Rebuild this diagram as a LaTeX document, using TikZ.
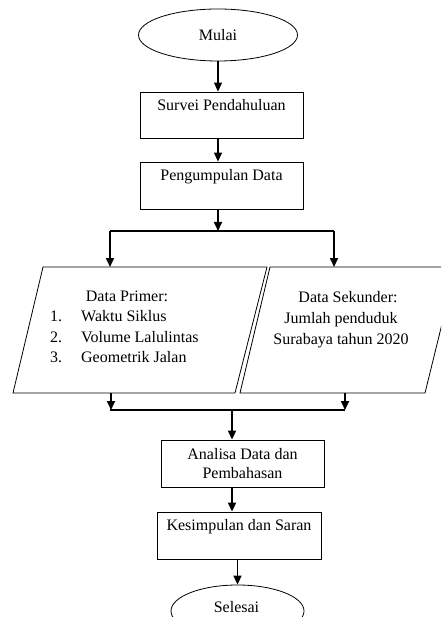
\documentclass[tikz,border=0pt]{standalone}
\usepackage{fontspec}
\setmainfont{Liberation Serif}
\usetikzlibrary{shapes.geometric}
\usetikzlibrary{arrows.meta}

\tikzset{
    terminal/.style={draw, line width=0.8pt, ellipse, inner sep=0pt},
    process/.style={draw, line width=0.8pt, rectangle, inner sep=0pt, align=center},
    datashape/.style={draw, line width=0.8pt},
    flowthin/.style={-{Triangle[length=9pt,width=8pt]}, line width=1.1pt},
    flow/.style={-{Triangle[length=9pt,width=8pt]}, line width=1.6pt},
    flowline/.style={line width=1.6pt},
}

\begin{document}
\begin{tikzpicture}[x=1pt, y=-1pt, font=\fontsize{16}{19}\selectfont]
		\path[use as bounding box, clip] (0,0) rectangle (441,617);
		\fill[white] (0,0) rectangle (441,617);
        % start and first steps
        \node[terminal, minimum width=159, minimum height=52] (mulai) at (218,35) {Mulai};
        \node[process, minimum width=163, minimum height=46] (survei) at (221.5,115)
            {\strut Survei Pendahuluan\\[-2pt]\strut};
        \node[process, minimum width=163, minimum height=47] (kumpul) at (221.5,185.5)
            {\strut Pengumpulan Data\\[-2pt]\strut};
		\draw [flowthin] (mulai.south) -- (mulai.south |- survei.north);
		\draw [flowthin] (survei.south -| mulai.south) -- (kumpul.north -| mulai.south);
        % split into the two data shapes
        \coordinate (split) at (218,231);
        \coordinate (splitL) at (110,231);
        \coordinate (splitR) at (334,231);
        \coordinate (primertop) at (110,267);
        \coordinate (sekundertop) at (334,267);
		\draw [flow] (kumpul.south -| mulai.south) -- (split);
		\draw [flowline] (splitL) -- (splitR);
		\draw [flow] (splitL) -- (primertop);
		\draw [flow] (splitR) -- (sekundertop);
        \draw [datashape] (43,267) -- (267,267) -- (235,393) -- (13,393) -- cycle;
        \draw [datashape] (270,267) -- (456,267) -- (425,393) -- (240,393) -- cycle;
        \node (primer) at (127,296) {Data Primer:};
        \node[anchor=north west, inner sep=0pt] (primerlist) at (50,307)
            {\fontsize{16}{20.5}\selectfont
             \begin{tabular}{@{}r@{\hspace{19pt}}l@{}}
                1. & Waktu Siklus\\
                2. & Volume Lalulintas\\
                3. & Geometrik Jalan
             \end{tabular}};
        \node[align=center, font=\fontsize{16}{21}\selectfont] (sekunder) at (341,320)
            {\hspace{14pt}Data Sekunder:\\Jumlah penduduk\\Surabaya tahun 2020};
        % join below the data shapes
        \coordinate (primerbot) at (111,393);
        \coordinate (sekunderbot) at (345,393);
        \coordinate (joinL) at (111,410);
        \coordinate (joinR) at (345,410);
        \coordinate (join) at (232,410);
		\draw [flow] (primerbot) -- (joinL);
		\draw [flow] (sekunderbot) -- (joinR);
		\draw [flowline] (110,410) -- (joinR);
        % last steps
        \node[process, minimum width=163, minimum height=47] (analisa) at (242.5,463.5)
            {Analisa Data dan\\Pembahasan};
        \node[process, minimum width=164, minimum height=47] (simpul) at (239,535.5)
            {\strut Kesimpulan dan Saran\\[-2pt]\strut};
        \node[terminal, minimum width=133, minimum height=52] (selesai) at (237.5,611) {};
        \node (selesaitext) at (236.5,607) {Selesai};
		\draw [flow] (join) -- (join |- analisa.north);
		\draw [flow] (analisa.south -| join) -- (simpul.north -| join);
		\draw [flow] (simpul.south -| selesai.north) -- (selesai.north);
	\end{tikzpicture}
\end{document}
